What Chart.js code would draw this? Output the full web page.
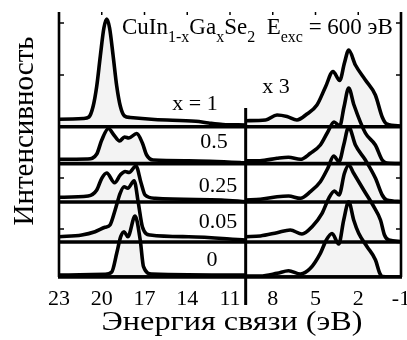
<!DOCTYPE html>
<html>
<head>
<meta charset="utf-8">
<script src="https://cdn.jsdelivr.net/npm/chart.js@4/dist/chart.umd.min.js"></script>
<style>
  body { margin: 0; background: #fff; }
  canvas { display: block; }
</style>
</head>
<body>
<canvas id="c" width="407" height="340"></canvas>
<script>
// Ga 3d / In 4d region (left) and valence band x3 (right), energy in eV
const spectrumLabels = ["x = 1", "0.5", "0.25", "0.05", "0"];
const baseLevels = [150.3, 113.4, 75, 35, 0];
const xTickStep = 3;
const yTicks = [48, 99, 150, 202, 254];
const breakEnergy = 9.9;

const x100CoreE = [23, 21.3, 20.9, 20.6, 20.35, 20.1, 19.85, 19.65, 19.45, 19.2, 18.95, 18.7, 18.4, 18.0, 16.3, 13.4, 12.5, 11.5, 9.9];
const x100CoreI = [157.7, 158.5, 160, 171, 191, 221, 249, 258, 249, 221, 191, 171, 161, 159.5, 157.5, 155.7, 154, 152.5, 152];
const x100ValE = [9.9, 8.5, 7.7, 7.0, 6.3, 5.6, 4.9, 4.3, 3.77, 3.3, 2.97, 2.67, 2.2, 1.5, 0.8, 0.32, 0.0, -1];
const x100ValI = [156.3, 157, 162, 160.5, 157, 163, 172, 190, 205.5, 196.5, 214, 227, 212, 197, 182, 160, 153, 151];

const x050CoreE = [23, 21.0, 20.35, 20.0, 19.53, 19.15, 18.75, 18.4, 18.1, 17.55, 17.15, 16.85, 16.4, 13.9, 10.2, 9.9];
const x050CoreI = [117.7, 118, 123, 137, 148.5, 142, 136, 140, 139, 143.5, 134, 122, 117, 116.3, 114.3, 114];
const x050ValE = [9.9, 8.9, 7.7, 6.9, 6.06, 5.36, 4.66, 4.14, 3.7, 3.3, 3.0, 2.67, 2.3, 1.5, 0.8, 0.32, 0.0, -1];
const x050ValI = [116.3, 116.3, 118.7, 119.7, 117.7, 123.7, 132, 145, 155, 151, 170, 189, 172, 144, 132, 117, 114, 113.5];

const x025CoreE = [23, 20.95, 20.35, 20.0, 19.65, 19.1, 18.7, 18.36, 18.08, 17.6, 17.24, 16.96, 16.25, 11.6, 9.9];
const x025CoreI = [79.7, 81, 87, 98.7, 104, 94.3, 102, 105.5, 104.5, 111, 94, 82, 78.7, 77, 75.3];
const x025ValE = [9.9, 8.87, 7.7, 6.89, 6.06, 5.36, 4.66, 4.14, 3.72, 3.35, 3.02, 2.67, 2.2, 1.5, 0.79, 0.32, 0.0, -1];
const x025ValI = [77, 77.7, 80.3, 81, 78.7, 85.3, 95.3, 108.7, 121, 115.3, 132, 150, 132, 117, 98.7, 82, 77, 75.5];

const x005CoreE = [23, 21.4, 20.47, 19.77, 19.42, 19.06, 18.71, 18.43, 18.17, 17.73, 17.43, 17.15, 16.6, 13.9, 9.9];
const x005CoreI = [40.3, 42, 45.3, 49.7, 52, 67, 83.7, 90.3, 88.7, 96.3, 73.7, 50.3, 42, 40.3, 37];
const x005ValE = [9.9, 8.87, 7.7, 6.77, 5.95, 5.24, 4.54, 4.07, 3.67, 3.35, 2.97, 2.67, 2.32, 1.62, 0.91, 0.44, 0.16, -0.14, -1];
const x005ValI = [40.3, 41, 44.3, 47, 43, 50.3, 63.7, 78.7, 86, 82, 103.7, 112, 103.7, 87, 70.3, 57, 42, 37, 35.5];

const x000CoreE = [23, 19.77, 19.3, 18.95, 18.67, 18.43, 18.17, 17.66, 17.3, 17.07, 16.49, 9.9];
const x000CoreI = [2, 2.7, 5, 23.7, 40.3, 45.3, 40.3, 61, 37, 10.3, 3, 2];
const x000ValE = [9.9, 8.87, 7.7, 6.89, 6.06, 5.36, 4.66, 4.24, 3.84, 3.37, 3.02, 2.67, 2.32, 1.97, 1.38, 0.79, 0.49, 0.3, -1];
const x000ValI = [1, 1, 3.7, 6.3, 3, 8.7, 23.7, 37, 43.5, 33, 57, 75.3, 57, 43.7, 30.3, 17, 3.7, 0.5, 0];

const segments = [
  [x100CoreE, x100CoreI, x100ValE, x100ValI],
  [x050CoreE, x050CoreI, x050ValE, x050ValI],
  [x025CoreE, x025CoreI, x025ValE, x025ValI],
  [x005CoreE, x005CoreI, x005ValE, x005ValI],
  [x000CoreE, x000CoreI, x000ValE, x000ValI],
];

const serif = '"Liberation Serif", "DejaVu Serif", serif';
const lineW = 3.6;

function toPoints(es, is) {
  return es.map((e, i) => ({ x: e, y: is[i] }));
}

const datasets = [];
segments.forEach((seg, k) => {
  const base = baseLevels[k];
  [[seg[0], seg[1]], [seg[2], seg[3]]].forEach(([es, is]) => {
    datasets.push({
      label: spectrumLabels[k],
      data: toPoints(es, is),
      borderColor: "#000",
      borderWidth: lineW,
      backgroundColor: "#f3f3f3",
      fill: { value: base },
      pointRadius: 0,
      cubicInterpolationMode: "monotone",
    });
  });
  datasets.push({
    label: spectrumLabels[k] + " base",
    data: [{ x: -1, y: base }, { x: 23, y: base }],
    borderColor: "#000",
    borderWidth: lineW,
    fill: false,
    pointRadius: 0,
  });
});

const decorations = {
  id: "decorations",
  afterDraw(chart) {
    const ctx = chart.ctx;
    const xs = chart.scales.x;
    const ys = chart.scales.y;
    const a = chart.chartArea;
    ctx.save();
    ctx.strokeStyle = "#000";
    ctx.fillStyle = "#000";
    ctx.lineCap = "butt";

    // frame: left, right, bottom
    ctx.lineWidth = 2.6;
    ctx.beginPath();
    ctx.moveTo(a.left, a.top);
    ctx.lineTo(a.left, a.bottom);
    ctx.moveTo(a.right, a.top);
    ctx.lineTo(a.right, a.bottom);
    ctx.stroke();
    ctx.lineWidth = lineW;
    ctx.beginPath();
    ctx.moveTo(a.left - 1, a.bottom);
    ctx.lineTo(a.right + 1, a.bottom);
    ctx.stroke();

    // inward ticks
    ctx.lineWidth = 1.5;
    ctx.beginPath();
    yTicks.forEach(v => {
      const y = ys.getPixelForValue(v);
      ctx.moveTo(a.left, y); ctx.lineTo(a.left + 5, y);
      ctx.moveTo(a.right, y); ctx.lineTo(a.right - 5, y);
    });
    xs.ticks.forEach(t => {
      if (t.value <= -1 || t.value >= 23) return;
      const x = xs.getPixelForValue(t.value);
      ctx.moveTo(x, a.top); ctx.lineTo(x, a.top + 3);
    });
    ctx.stroke();

    // break between the two energy ranges
    const bx = xs.getPixelForValue(breakEnergy);
    ctx.lineWidth = 3;
    ctx.beginPath();
    ctx.moveTo(bx, ys.getPixelForValue(169));
    ctx.lineTo(bx, a.bottom + 28);
    ctx.stroke();

    // spectrum labels
    ctx.textAlign = "center";
    ctx.textBaseline = "alphabetic";
    ctx.font = "22px " + serif;
    ctx.fillText(spectrumLabels[0], 195, 110);
    ctx.fillText(spectrumLabels[1], 214, 148);
    ctx.fillText(spectrumLabels[2], 218, 192);
    ctx.fillText(spectrumLabels[3], 218, 228);
    ctx.fillText(spectrumLabels[4], 212, 266);
    ctx.fillText("x 3", 276, 93);

    // composite title with subscripts
    ctx.textAlign = "left";
    const parts = [
      ["CuIn", 0], ["1-x", 1], ["Ga", 0], ["x", 1], ["Se", 0], ["2", 1],
      ["  E", 0], ["exc", 1], [" = 600 эВ", 0],
    ];
    let tx = 122;
    parts.forEach(([s, sub]) => {
      ctx.font = (sub ? "16px " : "23px ") + serif;
      ctx.fillText(s, tx, sub ? 42 : 34);
      tx += ctx.measureText(s).width;
    });

    // axis titles
    ctx.textAlign = "center";
    ctx.save();
    ctx.translate(232, 330);
    ctx.scale(1.15, 1);
    ctx.font = "28px " + serif;
    ctx.fillText("Энергия связи (эВ)", 0, 0);
    ctx.restore();

    ctx.translate(33, 131);
    ctx.rotate(-Math.PI / 2);
    ctx.font = "29px " + serif;
    ctx.fillText("Интенсивность", 0, 0);
    ctx.restore();
  },
};

new Chart(document.getElementById("c"), {
  type: "line",
  data: { datasets },
  options: {
    responsive: false,
    animation: false,
    devicePixelRatio: 1,
    layout: { padding: { left: 59, right: 6, top: 12, bottom: 0 } },
    plugins: {
      legend: { display: false },
      tooltip: { enabled: false },
      filler: { drawTime: "beforeDatasetsDraw" },
    },
    scales: {
      x: {
        type: "linear",
        reverse: true,
        min: -1,
        max: 23,
        grid: { display: false, drawTicks: false },
        border: { display: false },
        ticks: {
          stepSize: xTickStep,
          color: "#000",
          font: { family: serif, size: 22 },
          padding: 9,
          maxRotation: 0,
        },
        afterFit(s) {
          s.height = 63;
          s.paddingLeft = 0;
          s.paddingRight = 0;
        },
      },
      y: { display: false, min: 0, max: 265 },
    },
  },
  plugins: [decorations],
});
</script>
</body>
</html>
